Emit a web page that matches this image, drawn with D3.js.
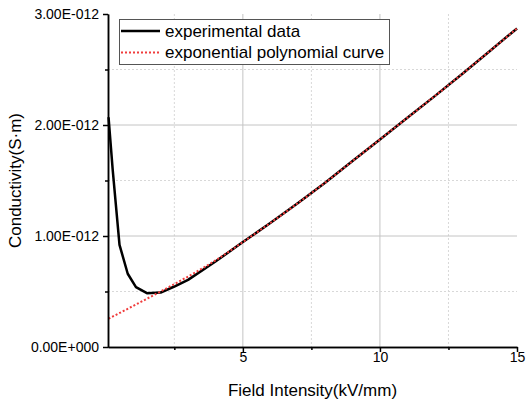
<!DOCTYPE html>
<html>
<head>
<meta charset="utf-8">
<script src="https://cdn.jsdelivr.net/npm/d3@7"></script>
<style>
  body { margin: 0; background: #fff; }
  svg { display: block; font-family: Arial, "Liberation Sans", sans-serif; }
</style>
</head>
<body>
<div id="chart"></div>
<script>
// field intensity (kV/mm)
const fieldX = [0.1, 0.25, 0.5, 0.8, 1.1, 1.5, 2, 2.5, 3, 4, 5, 6, 7, 8, 9, 10, 11, 12, 13, 14, 15];
// measured conductivity (S·m)
const experimental = [2.07e-12, 1.60e-12, 0.92e-12, 0.66e-12, 0.54e-12, 0.485e-12, 0.49e-12, 0.545e-12, 0.605e-12, 0.77e-12,
  0.945e-12, 1.117e-12, 1.295e-12, 1.48e-12, 1.675e-12, 1.87e-12, 2.065e-12, 2.26e-12, 2.46e-12, 2.665e-12, 2.87e-12];
// fitted curve
const fitX = [0.1, 1, 2, 3, 4, 5, 6, 7, 8, 9, 10, 11, 12, 13, 14, 15];
const fitted = [0.255e-12, 0.37e-12, 0.50e-12, 0.635e-12, 0.78e-12, 0.945e-12, 1.117e-12, 1.295e-12, 1.48e-12, 1.675e-12,
  1.87e-12, 2.065e-12, 2.26e-12, 2.46e-12, 2.665e-12, 2.87e-12];

const xMajor = [5, 10, 15];
const xMinor = [2.5, 7.5, 12.5];
const yMajor = [0, 1e-12, 2e-12, 3e-12];
const yMinor = [0.5e-12, 1.5e-12, 2.5e-12];
const seriesNames = ["experimental data", "exponential polynomial curve"];

const dim = { width: 527, height: 403, left: 108, right: 517, top: 14, bottom: 347 };

const svg = d3.select("#chart").append("svg")
  .attr("width", dim.width).attr("height", dim.height);

const x = d3.scaleLinear().domain([0.08, 15]).range([dim.left, dim.right]);
const y = d3.scaleLinear().domain([0, 3e-12]).range([dim.bottom, dim.top]);

// "3.00E-012" style labels
function sci(v) {
  if (v === 0) return "0.00E+000";
  const s = d3.format(".2e")(v);
  const [m, e] = s.split("e");
  const n = +e;
  return m + "E" + (n < 0 ? "-" : "+") + String(Math.abs(n)).padStart(3, "0");
}

// grid
const grid = svg.append("g");
grid.selectAll(".gx").data(xMajor.filter(d => d < 15)).enter().append("line")
  .attr("x1", d => x(d)).attr("x2", d => x(d)).attr("y1", dim.top).attr("y2", dim.bottom)
  .attr("stroke", "#c4c4c4").attr("stroke-width", 1);
grid.selectAll(".gxm").data(xMinor).enter().append("line")
  .attr("x1", d => x(d)).attr("x2", d => x(d)).attr("y1", dim.top).attr("y2", dim.bottom)
  .attr("stroke", "#d8d8d8").attr("stroke-width", 1).attr("stroke-dasharray", "2,2");
grid.selectAll(".gy").data(yMajor.filter(d => d > 0 && d < 3e-12)).enter().append("line")
  .attr("x1", dim.left).attr("x2", dim.right).attr("y1", d => y(d)).attr("y2", d => y(d))
  .attr("stroke", "#c4c4c4").attr("stroke-width", 1);
grid.selectAll(".gym").data(yMinor).enter().append("line")
  .attr("x1", dim.left).attr("x2", dim.right).attr("y1", d => y(d)).attr("y2", d => y(d))
  .attr("stroke", "#d8d8d8").attr("stroke-width", 1).attr("stroke-dasharray", "2,2");

// lines
const lineExp = d3.line().x(d => x(d[0])).y(d => y(d[1]));
const lineFit = d3.line().x(d => x(d[0])).y(d => y(d[1])).curve(d3.curveMonotoneX);
svg.append("path").datum(fieldX.map((d, i) => [d, experimental[i]]))
  .attr("d", lineExp).attr("fill", "none").attr("stroke", "#000").attr("stroke-width", 2.5)
  .attr("stroke-linejoin", "round");
svg.append("path").datum(fitX.map((d, i) => [d, fitted[i]]))
  .attr("d", lineFit).attr("fill", "none").attr("stroke", "#f03c3c").attr("stroke-width", 2)
  .attr("stroke-dasharray", "2,2");

// axes
const axisX = d3.axisBottom(x).tickValues(xMajor).tickSize(5).tickSizeOuter(0);
const axisXm = d3.axisBottom(x).tickValues(xMinor).tickSize(3).tickFormat("").tickSizeOuter(0);
const axisY = d3.axisLeft(y).tickValues(yMajor).tickSize(5).tickFormat(sci).tickSizeOuter(0).tickPadding(4);
const axisYm = d3.axisLeft(y).tickValues(yMinor).tickSize(3).tickFormat("").tickSizeOuter(0);

function styleAxis(g) {
  g.selectAll("path, line").attr("stroke", "#000").attr("stroke-width", 1.5);
  g.selectAll("text").attr("font-size", 14).attr("fill", "#000")
    .attr("font-family", "Arial, 'Liberation Sans', sans-serif");
}
svg.append("g").attr("transform", `translate(0,${dim.bottom})`).call(axisXm).call(styleAxis);
svg.append("g").attr("transform", `translate(0,${dim.bottom})`).call(axisX).call(styleAxis)
  .selectAll("text").attr("y", 5).attr("dy", "0.7em");
svg.append("g").attr("transform", `translate(${dim.left},0)`).call(axisYm).call(styleAxis);
svg.append("g").attr("transform", `translate(${dim.left},0)`).call(axisY).call(styleAxis);

// axis titles
svg.append("text").attr("x", (dim.left + dim.right) / 2).attr("y", 396)
  .attr("text-anchor", "middle").attr("font-size", 17).text("Field Intensity(kV/mm)");
svg.append("text").attr("transform", `translate(21,${(dim.top + dim.bottom) / 2}) rotate(-90)`)
  .attr("text-anchor", "middle").attr("font-size", 17).text("Conductivity(S·m)");

// legend
const lg = svg.append("g");
lg.append("rect").attr("x", 119.5).attr("y", 19.5).attr("width", 270).attr("height", 45)
  .attr("fill", "#fff").attr("stroke", "#555").attr("stroke-width", 1);
const rows = lg.selectAll(".row").data(seriesNames).enter().append("g")
  .attr("transform", (d, i) => `translate(0,${31 + i * 21.5})`);
rows.append("line").attr("x1", 121).attr("x2", 160).attr("y1", 0).attr("y2", 0)
  .attr("stroke", (d, i) => i ? "#f03c3c" : "#000")
  .attr("stroke-width", (d, i) => i ? 2 : 2.5)
  .attr("stroke-dasharray", (d, i) => i ? "2,2" : null);
rows.append("text").attr("x", 165).attr("y", 5.5).attr("font-size", 17).text(d => d);
</script>
</body>
</html>
